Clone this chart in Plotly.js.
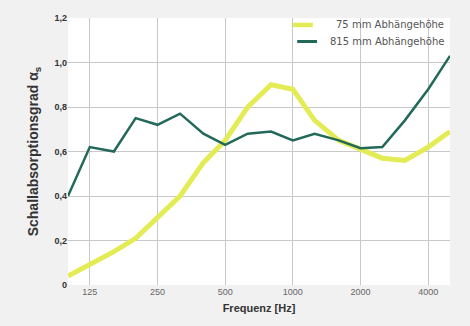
<!DOCTYPE html>
<html>
<head>
<meta charset="utf-8">
<script src="https://cdn.plot.ly/plotly-3.0.1.min.js"></script>
<style>html,body{margin:0;padding:0;background:#f1f1f1}#chart{width:470px;height:326px}</style>
</head>
<body>
<div id="chart"></div>
<script>
const freqs = [100,125,160,200,250,315,400,500,630,800,1000,1250,1600,2000,2500,3150,4000,5000];
const series75Name = '75 mm Abhängehöhe';
const series75 = [0.04,0.09,0.15,0.21,0.30,0.40,0.55,0.65,0.80,0.90,0.88,0.74,0.65,0.61,0.57,0.56,0.62,0.69];
const series815Name = '815 mm Abhängehöhe';
const series815 = [0.40,0.62,0.60,0.75,0.72,0.77,0.68,0.63,0.68,0.69,0.65,0.68,0.65,0.615,0.62,0.74,0.88,1.03];
const xTickVals = [125,250,500,1000,2000,4000];
const xTickText = ['125','250','500','1000','2000','4000'];
const yTickVals = [0,0.2,0.4,0.6,0.8,1.0,1.2];
const yTickText = ['0','0,2','0,4','0,6','0,8','1,0','1,2'];

const color75 = '#e4ec55';
const color815 = '#22695a';

const traces = [
  {x: freqs, y: series75, name: series75Name, mode: 'lines', type: 'scatter',
   line: {color: color75, width: 5}},
  {x: freqs, y: series815, name: series815Name, mode: 'lines', type: 'scatter',
   line: {color: color815, width: 2.5}}
];

// custom compact legend (paper coordinates)
const legendRows = [
  {name: series75Name, color: color75, width: 4.5, y: 0.974, x0: 0.589, x1: 0.641},
  {name: series815Name, color: color815, width: 3, y: 0.912, x0: 0.600, x1: 0.652}
];
const shapes = legendRows.map(r => ({type: 'line', xref: 'paper', yref: 'paper',
  x0: r.x0, x1: r.x1, y0: r.y, y1: r.y, line: {color: r.color, width: r.width}}));
const annotations = legendRows.map(r => ({xref: 'paper', yref: 'paper', x: 0.99, y: r.y,
  xanchor: 'right', yanchor: 'middle', showarrow: false, text: r.name,
  font: {family: 'DejaVu Sans, sans-serif', size: 10, color: '#555'}}));

const layout = {
  width: 470, height: 326,
  margin: {l: 68, r: 20, t: 18, b: 41},
  paper_bgcolor: '#f1f1f1',
  plot_bgcolor: '#ffffff',
  font: {family: 'Liberation Sans, Arial, sans-serif', color: '#555', size: 9},
  showlegend: false,
  shapes: shapes,
  annotations: annotations,
  xaxis: {type: 'log', range: [Math.log10(100), Math.log10(5000)],
    tickvals: xTickVals, ticktext: xTickText, showgrid: true, gridcolor: '#c8c8c8', gridwidth: 1,
    zeroline: false, showline: false, ticks: '', tickfont: {size: 9, color: '#666'},
    title: {text: 'Frequenz [Hz]', font: {size: 11, color: '#333', weight: 'bold'}, standoff: 8}},
  yaxis: {range: [0, 1.2], tickvals: yTickVals, ticktext: yTickText,
    showgrid: true, gridcolor: '#c8c8c8', gridwidth: 1, zeroline: false, showline: false,
    ticks: '', tickfont: {size: 9, color: '#333', weight: 'bold'},
    title: {text: 'Schallabsorptionsgrad α<sub>s</sub>', font: {size: 14, color: '#333', weight: 'bold'}, standoff: 12}}
};
Plotly.newPlot('chart', traces, layout, {displayModeBar: false, staticPlot: true});
</script>
</body>
</html>
